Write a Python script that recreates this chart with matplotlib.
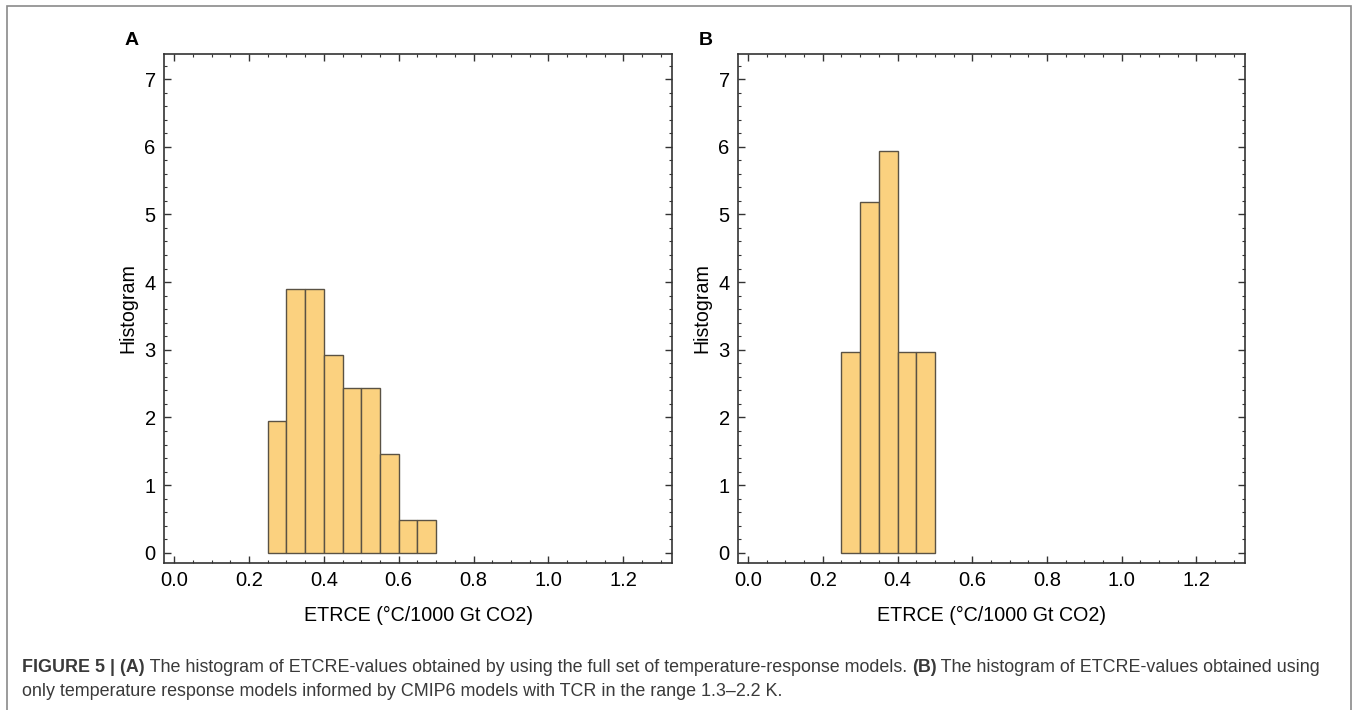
import matplotlib
matplotlib.use('Agg')
import matplotlib.pyplot as plt
from matplotlib.patches import Rectangle
from matplotlib.ticker import MultipleLocator
import numpy as np

plt.rcParams['font.family'] = ['Liberation Sans', 'DejaVu Sans']

# bin edges (ETRCE, °C/1000 Gt CO2) and bar heights
edges_a = [0.25, 0.30, 0.35, 0.40, 0.45, 0.50, 0.55, 0.60, 0.65, 0.70]
heights_a = [1.95, 3.90, 3.90, 2.93, 2.44, 2.44, 1.46, 0.49, 0.49]
edges_b = [0.25, 0.30, 0.35, 0.40, 0.45, 0.50]
heights_b = [2.96, 5.19, 5.93, 2.96, 2.96]

x_label = 'ETRCE (°C/1000 Gt CO2)'
y_label = 'Histogram'

W, H = 1357, 710
fig = plt.figure(figsize=(W / 100, H / 100), dpi=100)

# outer border of the figure box
fig.patches.append(Rectangle((7 / W, -0.1), (1351 - 7) / W, 1.1 - 6 / H,
                             transform=fig.transFigure, fill=False,
                             edgecolor='#8a8a8a', linewidth=1.2))


def draw_panel(rect, edges, heights, letter):
    ax = fig.add_axes(rect)
    e = np.array(edges)
    ax.bar(e[:-1], heights, width=np.diff(e), align='edge',
           color='#fbd17f', edgecolor='#5a5244', linewidth=1.0)
    ax.set_xlim(-0.027, 1.33)
    ax.set_ylim(-0.15, 7.37)
    ax.xaxis.set_major_locator(MultipleLocator(0.2))
    ax.xaxis.set_minor_locator(MultipleLocator(0.05))
    ax.yaxis.set_major_locator(MultipleLocator(1))
    ax.yaxis.set_minor_locator(MultipleLocator(0.2))
    ax.set_xticks(np.arange(0, 1.21, 0.2))
    ax.set_xticklabels(['%.1f' % v for v in np.arange(0, 1.21, 0.2)])
    ax.tick_params(which='both', direction='in', top=True, right=True,
                   color='#333333', labelsize=14.5, labelcolor='black')
    ax.tick_params(which='major', length=5, width=1.0, pad=6)
    ax.tick_params(which='minor', length=2.5, width=0.8)
    for s in ax.spines.values():
        s.set_color('#333333')
        s.set_linewidth(1.2)
    ax.set_xlabel(x_label, fontsize=14.1, labelpad=11)
    ax.set_ylabel(y_label, fontsize=14.1, labelpad=5)
    ax.text(-0.077, 1.0275, letter, transform=ax.transAxes, fontsize=14,
            fontweight='bold', ha='left', va='center')
    return ax


draw_panel([164 / W, 1 - 563 / H, 508 / W, 509 / H], edges_a, heights_a, 'A')
draw_panel([738 / W, 1 - 563 / H, 507 / W, 509 / H], edges_b, heights_b, 'B')

# caption with bold pieces
line1 = [('FIGURE 5 | (A)', 'bold'),
         (' The histogram of ETCRE-values obtained by using the full set of temperature-response models. ', 'normal'),
         ('(B)', 'bold'),
         (' The histogram of ETCRE-values obtained using', 'normal')]
line2 = [('only temperature response models informed by CMIP6 models with TCR in the range 1.3\u20132.2 K.', 'normal')]

renderer = fig.canvas.get_renderer()


def caption_line(parts, y):
    x = 22 / W
    for txt, w in parts:
        t = fig.text(x, y, txt, fontsize=12.9, fontweight=w, color='#3a3a3a',
                     ha='left', va='center')
        bb = t.get_window_extent(renderer=renderer)
        x = bb.x1 / W


caption_line(line1, 1 - 667 / H)
caption_line(line2, 1 - 692 / H)

fig.savefig('out.png', dpi=100)
